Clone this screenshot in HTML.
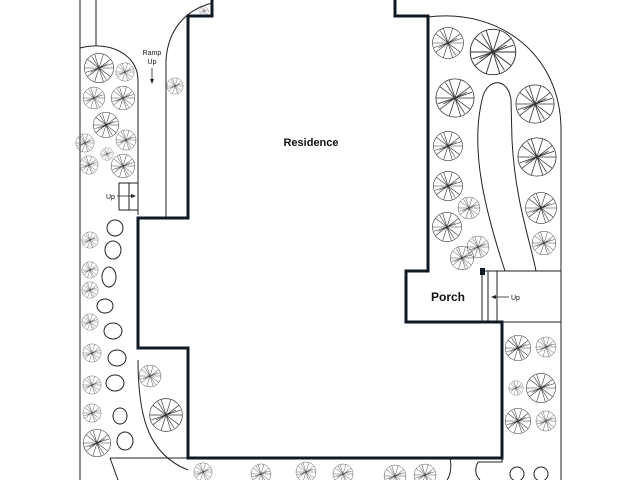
<!DOCTYPE html>
<html><head><style>
html,body{margin:0;padding:0;background:#fff;}
svg{display:block}
text{font-family:"Liberation Sans",sans-serif;fill:#111;}
</style></head><body>
<svg width="640" height="480" viewBox="0 0 640 480" xmlns="http://www.w3.org/2000/svg">
<defs>
<symbol id="t" viewBox="-11 -11 22 22">
<g fill="none" stroke="#333" stroke-width="0.4">
<circle r="10"/>
<path d="M0 0L10 0M0 0L8 6M0 0L3 9.5M0 0L-3 9.5M0 0L-8 6M0 0L-10 0M0 0L-8 -6M0 0L-3 -9.5M0 0L3 -9.5M0 0L8 -6M0 0L6 -3M0 0L-6 3M0 0L5 8M0 0L-5 -8M0 0L-9 3M0 0L9 -3"/>
</g>
</symbol>
</defs>
<rect width="640" height="480" fill="#fff"/>
<g fill="none" stroke="#222" stroke-width="1">
<line x1="80" y1="0" x2="80" y2="480"/>
<line x1="96" y1="0" x2="96" y2="46"/>
<path d="M80 48 C110 40 138 55 138 80 L138 215"/>
<path d="M166 217 L166 60 C168 30 185 10 212 3"/>
<rect x="119" y="183" width="19" height="27"/>
<line x1="129" y1="183" x2="129" y2="210"/>
<path d="M428 17 C500 8 561 55 561 130 L561 271"/>
<path d="M505 271 C485 210 470 150 482 100 C486 78 508 76 511 100 L512 140 C515 200 530 240 536 271"/>
<rect x="482" y="271" width="79" height="51"/>
<line x1="488" y1="271" x2="488" y2="322"/>
<line x1="497" y1="271" x2="497" y2="322"/>
<line x1="561" y1="322" x2="561" y2="480"/>
<path d="M138 360 C138 420 150 455 188 470"/>
<line x1="110" y1="458" x2="188" y2="458"/>
<line x1="110" y1="458" x2="118" y2="480"/>
<path d="M450 458 C452 468 450 476 447 480"/>
<path d="M478 462 L502 462 L502 458"/>
<path d="M478 462 C474 470 476 476 480 480"/>
<circle cx="517" cy="474" r="7"/><circle cx="541" cy="474" r="7"/>
<ellipse cx="115" cy="228" rx="8" ry="8"/>
<ellipse cx="113" cy="250" rx="8" ry="9"/>
<ellipse cx="109" cy="277" rx="7" ry="10"/>
<ellipse cx="105" cy="306" rx="8" ry="7"/>
<ellipse cx="113" cy="331" rx="9" ry="8"/>
<ellipse cx="117" cy="358" rx="9" ry="8"/>
<ellipse cx="115" cy="383" rx="9" ry="8"/>
<ellipse cx="120" cy="416" rx="7" ry="8"/>
<ellipse cx="125" cy="441" rx="8" ry="9"/>
</g>
<path d="M212 0 L212 16 L188 16 L188 218 L138 218 L138 348 L188 348 L188 458 L502 458 L502 322 L406 322 L406 271 L428 271 L428 16 L395 16 L395 0" fill="none" stroke="#0f1a24" stroke-width="3"/>
<rect x="480" y="268" width="5" height="7" fill="#0f1a24"/>
<g>
<use href="#t" x="83" y="52" width="32" height="32"/>
<use href="#t" x="115" y="62" width="20" height="20"/>
<use href="#t" x="82" y="86" width="24" height="24"/>
<use href="#t" x="110" y="85" width="26" height="26"/>
<use href="#t" x="92" y="111" width="28" height="28"/>
<use href="#t" x="75" y="133" width="20" height="20"/>
<use href="#t" x="115" y="129" width="22" height="22"/>
<use href="#t" x="79" y="155" width="20" height="20"/>
<use href="#t" x="100" y="147" width="14" height="14"/>
<use href="#t" x="110" y="153" width="26" height="26"/>
<use href="#t" x="166" y="77" width="18" height="18"/>
<use href="#t" x="199" y="6" width="10" height="10"/>
<use href="#t" x="81" y="231" width="18" height="18"/>
<use href="#t" x="81" y="261" width="18" height="18"/>
<use href="#t" x="81" y="281" width="18" height="18"/>
<use href="#t" x="81" y="313" width="18" height="18"/>
<use href="#t" x="82" y="343" width="20" height="20"/>
<use href="#t" x="82" y="375" width="20" height="20"/>
<use href="#t" x="82" y="403" width="20" height="20"/>
<use href="#t" x="82" y="428" width="30" height="30"/>
<use href="#t" x="138" y="364" width="24" height="24"/>
<use href="#t" x="148" y="397" width="36" height="36"/>
<use href="#t" x="431" y="26" width="34" height="34"/>
<use href="#t" x="468" y="27" width="50" height="50"/>
<use href="#t" x="434" y="77" width="42" height="42"/>
<use href="#t" x="432" y="130" width="32" height="32"/>
<use href="#t" x="432" y="170" width="32" height="32"/>
<use href="#t" x="457" y="196" width="24" height="24"/>
<use href="#t" x="431" y="211" width="32" height="32"/>
<use href="#t" x="466" y="235" width="24" height="24"/>
<use href="#t" x="449" y="245" width="26" height="26"/>
<use href="#t" x="514" y="83" width="42" height="42"/>
<use href="#t" x="516" y="136" width="42" height="42"/>
<use href="#t" x="524" y="191" width="34" height="34"/>
<use href="#t" x="531" y="230" width="26" height="26"/>
<use href="#t" x="504" y="334" width="28" height="28"/>
<use href="#t" x="535" y="336" width="22" height="22"/>
<use href="#t" x="508" y="380" width="16" height="16"/>
<use href="#t" x="525" y="372" width="32" height="32"/>
<use href="#t" x="504" y="407" width="28" height="28"/>
<use href="#t" x="535" y="410" width="22" height="22"/>
<use href="#t" x="193" y="462" width="20" height="20"/>
<use href="#t" x="250" y="463" width="22" height="22"/>
<use href="#t" x="295" y="461" width="22" height="22"/>
<use href="#t" x="332" y="463" width="22" height="22"/>
<use href="#t" x="383" y="464" width="24" height="24"/>
<use href="#t" x="413" y="463" width="24" height="24"/>
</g>
<text x="311" y="146" font-size="11" font-weight="bold" text-anchor="middle">Residence</text>
<text x="448" y="301" font-size="12" font-weight="bold" text-anchor="middle">Porch</text>
<text x="152" y="55" font-size="7" text-anchor="middle">Ramp</text>
<text x="152" y="64" font-size="7" text-anchor="middle">Up</text>
<line x1="152" y1="68" x2="152" y2="82" stroke="#222" stroke-width="0.8"/>
<path d="M150 79 L152 84 L154 79Z" fill="#222"/>
<text x="106" y="199" font-size="7">Up</text>
<line x1="117" y1="196" x2="133" y2="196" stroke="#222" stroke-width="0.8"/>
<path d="M131 194 L136 196 L131 198Z" fill="#222"/>
<text x="511" y="300" font-size="7">Up</text>
<line x1="494" y1="297" x2="509" y2="297" stroke="#222" stroke-width="0.8"/>
<path d="M496 295 L491 297 L496 299Z" fill="#222"/>
</svg>
</body></html>
